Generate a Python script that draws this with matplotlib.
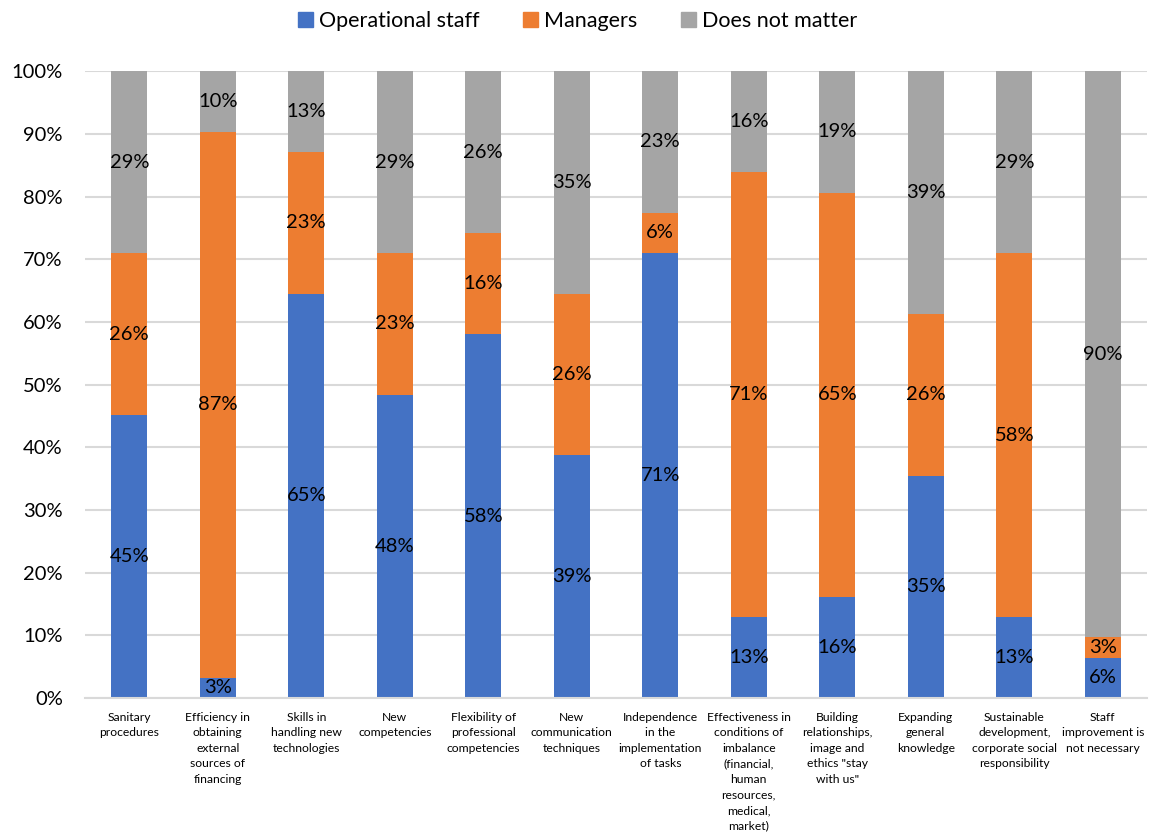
import numpy as np
import matplotlib.pyplot as plt
from matplotlib.patches import Patch

plt.rcParams['font.family'] = ['Lato', 'DejaVu Sans']

categories = [
    "Sanitary\nprocedures",
    "Efficiency in\nobtaining\nexternal\nsources of\nfinancing",
    "Skills in\nhandling new\ntechnologies",
    "New\ncompetencies",
    "Flexibility of\nprofessional\ncompetencies",
    "New\ncommunication\ntechniques",
    "Independence\nin the\nimplementation\nof tasks",
    "Effectiveness in\nconditions of\nimbalance\n(financial,\nhuman\nresources,\nmedical,\nmarket)",
    "Building\nrelationships,\nimage and\nethics \"stay\nwith us\"",
    "Expanding\ngeneral\nknowledge",
    "Sustainable\ndevelopment,\ncorporate social\nresponsibility",
    "Staff\nimprovement is\nnot necessary",
]

# shares of respondents, in percent
operational = [45.16, 3.23, 64.52, 48.39, 58.06, 38.71, 70.97, 12.90, 16.13, 35.48, 12.90, 6.45]
managers = [25.81, 87.10, 22.58, 22.58, 16.13, 25.81, 6.45, 70.97, 64.52, 25.81, 58.06, 3.23]
no_matter = [29.03, 9.68, 12.90, 29.03, 25.81, 35.48, 22.58, 16.13, 19.35, 38.71, 29.03, 90.32]

series = [("Operational staff", operational, "#4472C4"),
          ("Managers", managers, "#ED7D31"),
          ("Does not matter", no_matter, "#A5A5A5")]

fig = plt.figure(figsize=(11.55, 8.38), dpi=100)
ax = fig.add_axes([0.0736, 0.167, 0.9195, 0.748])

x = np.arange(len(categories))
bottom = np.zeros(len(categories))
for name, vals, color in series:
    vals = np.array(vals)
    ax.bar(x, vals, width=0.41, bottom=bottom, color=color, zorder=2)
    for xi, b, v in zip(x, bottom, vals):
        ax.text(xi, b + v / 2, "{:.0f}%".format(v), ha='center', va='center',
                fontsize=14.5, color='black', zorder=3)
    bottom = bottom + vals

ax.set_xlim(-0.5, len(categories) - 0.5)
ax.set_ylim(0, 100)
ax.set_yticks(np.arange(0, 101, 10))
ax.set_yticklabels(["{}%".format(t) for t in range(0, 101, 10)], fontsize=14.5)
ax.set_xticks(x)
ax.set_xticklabels(categories, fontsize=8.7, linespacing=1.5, va='top')
ax.tick_params(axis='both', length=0)
ax.tick_params(axis='x', pad=10)
ax.tick_params(axis='y', pad=16)
ax.grid(axis='y', color='#D9D9D9', linewidth=1.5, zorder=0)
for s in ['top', 'right', 'left']:
    ax.spines[s].set_visible(False)
ax.spines['bottom'].set_color('#D9D9D9')
ax.spines['bottom'].set_linewidth(1.5)

handles = [Patch(color=c, label=n) for n, _, c in series]
fig.legend(handles=handles, loc='upper center', bbox_to_anchor=(0.5, 1.01),
           ncol=3, frameon=False, fontsize=15.5, handlelength=0.7, handleheight=0.7,
           handletextpad=0.3, columnspacing=2.0)

fig.savefig("out.png", dpi=100)
